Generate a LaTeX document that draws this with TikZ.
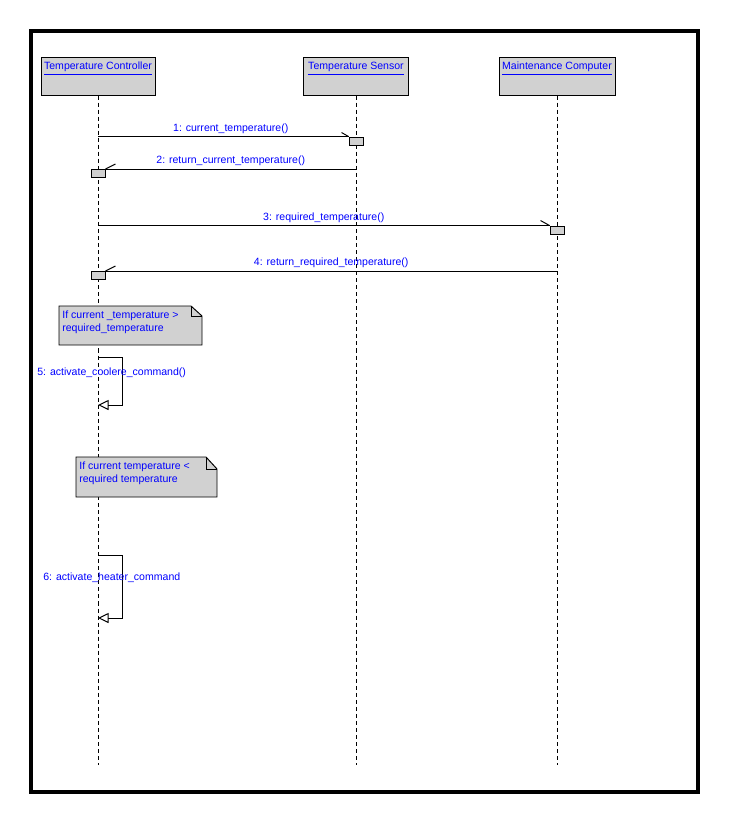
\documentclass[tikz,border=0pt]{standalone}
\usepackage{fontspec}
\setmainfont{Liberation Sans}
\usetikzlibrary{arrows.meta}

\definecolor{umlblue}{RGB}{0,0,255}
\definecolor{stipple}{gray}{0.82}
\newcommand{\umlfont}{\fontsize{6}{7.4}\selectfont}

\tikzset{
  lifebox/.style={draw, line width=0.55pt, fill=stipple, minimum height=0.76cm, inner sep=0pt},
  lifename/.style={text=umlblue, font=\umlfont, inner sep=0pt, anchor=north},
  lifeline/.style={line width=0.5pt, dash pattern=on 2.3pt off 1.7pt},
  actbox/.style={draw, line width=0.55pt, fill=stipple, minimum width=0.28cm, minimum height=0.16cm, inner sep=0pt},
  msg/.style={line width=0.55pt},
  msglabel/.style={text=umlblue, font=\umlfont, inner sep=1.5pt, above},
  selfmsg/.style={line width=0.55pt, -{Triangle[open, length=6pt, width=5.7pt]}},
  notebox/.style={draw, line width=0.55pt, fill=stipple},
  notetext/.style={text=umlblue, font=\umlfont, align=left, anchor=north west, inner sep=0pt}
}

\begin{document}
\begin{tikzpicture}[x=0.02cm, y=-0.02cm]
\useasboundingbox (0,0) rectangle (736,835);
\draw[line width=2.3pt] (31,31) rectangle (698,792);

% objects
\node[lifebox, minimum width=2.28cm] (tc) at (98,76) {};
\node[lifebox, minimum width=2.10cm] (ts) at (356,76) {};
\node[lifebox, minimum width=2.32cm] (mc) at (557,76) {};
\node[lifename] (tcname) at (98,62) {\underline{Temperature Controller}};
\node[lifename] (tsname) at (356,62) {\underline{Temperature Sensor}};
\node[lifename] (mcname) at (557,62) {\underline{Maintenance Computer}};

% lifelines
\coordinate (tcend) at (98,765);
\coordinate (tsend) at (356,765);
\coordinate (mcend) at (557,765);
\draw[lifeline] (tc.south) -- (tcend);
\draw[lifeline] (ts.south) -- (tsend);
\draw[lifeline] (mc.south) -- (mcend);

% activations
\node[actbox] (act1) at (356,141) {};
\node[actbox] (act2) at (98,173.5) {};
\node[actbox] (act3) at (557,230) {};
\node[actbox] (act4) at (98,275.5) {};

% messages
\draw[msg] (act1.north west -| tc) -- node[msglabel, pos=0.53] {1: current\_temperature()} (act1.north west);
\draw[msg] (act1.north west) -- ++(-7,-4);
\draw[msg] (act2.north east -| ts) -- node[msglabel] {2: return\_current\_temperature()} (act2.north east);
\draw[msg] (act2.north east) -- ++(10,-5);
\draw[msg] (act3.north west -| tc) -- node[msglabel] {3: required\_temperature()} (act3.north west);
\draw[msg] (act3.north west) -- ++(-9,-5);
\draw[msg] (act4.north east -| mc) -- node[msglabel] {4: return\_required\_temperature()} (act4.north east);
\draw[msg] (act4.north east) -- ++(10,-5);

% notes
\draw[notebox] (59,306) -- (191,306) -- (202,316) -- (202,345) -- (59,345) -- cycle;
\draw[msg] (191,306) -- (191,316) -- (202,316);
\node[notetext] (note1) at (62,311) {If current \_temperature >\\required\_temperature};

\draw[notebox] (76,457) -- (206,457) -- (217,469) -- (217,497) -- (76,497) -- cycle;
\draw[msg] (206,457) -- (206,469) -- (217,469);
\node[notetext] (note2) at (79,462) {If current temperature <\\required  temperature};

% self messages
\coordinate (s5a) at (98,357);
\coordinate (s5b) at (98,405);
\draw[selfmsg] (s5a) -- ++(24,0) |- (s5b);
\node[text=umlblue, font=\umlfont, anchor=west, inner sep=0pt] (lbl5) at (37,373) {5: activate\_coolere\_command()};

\coordinate (s6a) at (98,555);
\coordinate (s6b) at (98,618);
\draw[selfmsg] (s6a) -- ++(24,0) |- (s6b);
\node[text=umlblue, font=\umlfont, anchor=west, inner sep=0pt] (lbl6) at (43,578) {6: activate\_heater\_command};
\end{tikzpicture}
\end{document}
